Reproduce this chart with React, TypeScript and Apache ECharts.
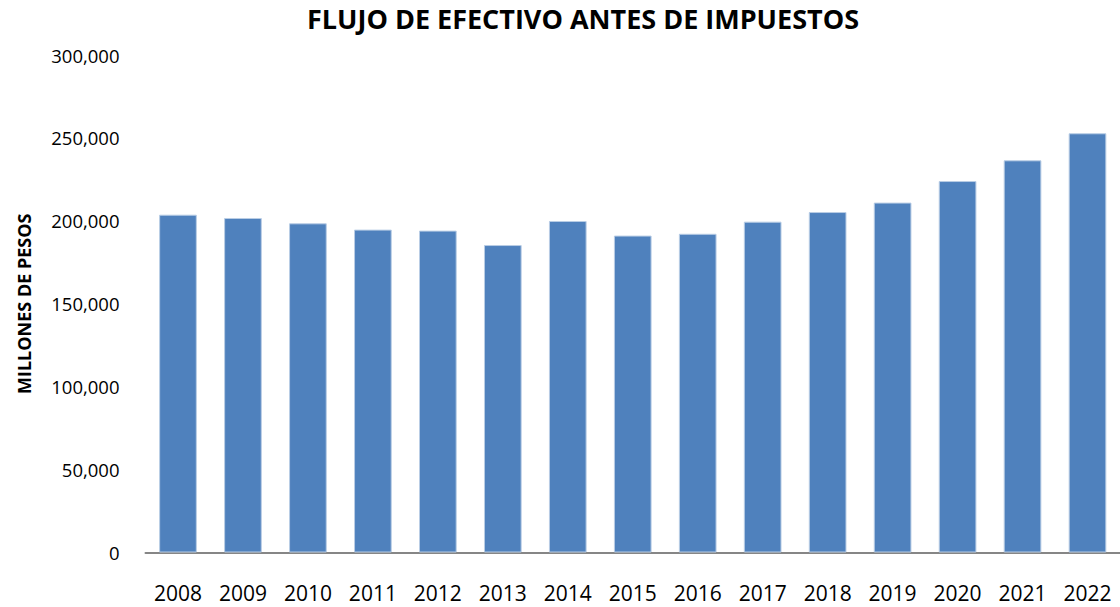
import React, { useEffect, useRef } from "react";
import * as echarts from "echarts";

const years = ["2008", "2009", "2010", "2011", "2012", "2013", "2014", "2015", "2016", "2017", "2018", "2019", "2020", "2021", "2022"];
const flujo = [203700, 201700, 198500, 194700, 194100, 185400, 199900, 191100, 192200, 199500, 205300, 211000, 224000, 236500, 252800];
const yTicks = { min: 0, max: 300000, interval: 50000 };

const FONT = "'Open Sans', 'Noto Sans', sans-serif";

export default function App() {
  const ref = useRef<HTMLDivElement>(null);
  useEffect(() => {
    const chart = echarts.init(ref.current!, undefined, { renderer: "svg" });
    chart.setOption({
      animation: false,
      backgroundColor: "#ffffff",
      title: {
        text: "FLUJO DE EFECTIVO ANTES DE IMPUESTOS",
        left: 578,
        textAlign: "center",
        top: 0,
        textStyle: { fontFamily: FONT, fontWeight: "bold", fontSize: 27, color: "#000" },
      },
      grid: { left: 145.5, right: -1.5, top: 55, bottom: 54.5, containLabel: false },
      xAxis: {
        type: "category",
        data: years,
        axisLine: { show: true, lineStyle: { color: "#868686", width: 2 } },
        axisTick: { show: false },
        axisLabel: { fontFamily: FONT, fontSize: 21, color: "#000", margin: 30, interval: 0 },
      },
      yAxis: {
        type: "value",
        min: yTicks.min,
        max: yTicks.max,
        interval: yTicks.interval,
        name: "MILLONES DE PESOS",
        nameLocation: "middle",
        nameGap: 113,
        nameRotate: 90,
        nameTextStyle: { fontFamily: FONT, fontWeight: "bold", fontSize: 18, color: "#000" },
        axisLine: { show: false },
        axisTick: { show: false },
        splitLine: { show: false },
        axisLabel: {
          fontFamily: FONT,
          fontSize: 18.5,
          color: "#000",
          margin: 26,
          formatter: (v: number) => v.toLocaleString("en-US"),
        },
      },
      series: [
        {
          type: "bar",
          data: flujo,
          barCategoryGap: "42%",
          itemStyle: { color: "#4F81BD", borderColor: "#B9CDE5", borderWidth: 1 },
        },
      ],
    });
    return () => chart.dispose();
  }, []);
  return <div ref={ref} style={{ width: 1120, height: 607, position: "absolute", left: 0, top: 0 }} />;
}
